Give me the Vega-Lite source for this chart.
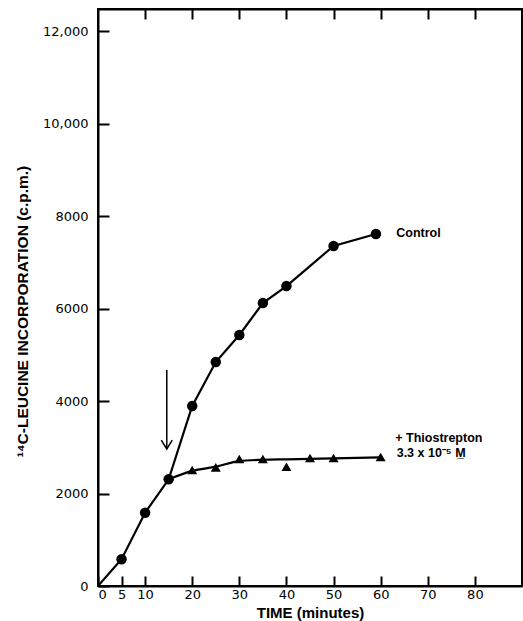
{
  "$schema": "https://vega.github.io/schema/vega-lite/v6.json",
  "width": 424,
  "height": 577,
  "autosize": "none",
  "padding": {"left": 98, "top": 9, "right": 1, "bottom": 35},
  "background": "white",
  "config": {
    "view": {"stroke": "black", "strokeWidth": 2},
    "axis": {
      "domainColor": "black",
      "domainWidth": 2,
      "tickColor": "black",
      "tickWidth": 2,
      "grid": false,
      "labelFont": "DejaVu Sans",
      "labelFontSize": 13,
      "labelColor": "black",
      "titleFont": "Liberation Sans",
      "titleFontWeight": "bold",
      "titleColor": "black"
    }
  },
  "datasets": {
    "control": [
      {"time": 0, "cpm": 0},
      {"time": 5, "cpm": 580},
      {"time": 10, "cpm": 1585},
      {"time": 15, "cpm": 2307},
      {"time": 20, "cpm": 3892},
      {"time": 25, "cpm": 4843},
      {"time": 30, "cpm": 5427},
      {"time": 35, "cpm": 6119},
      {"time": 40, "cpm": 6486},
      {"time": 50, "cpm": 7351},
      {"time": 59, "cpm": 7610}
    ],
    "thio_points": [
      {"time": 20, "cpm": 2508},
      {"time": 25, "cpm": 2566},
      {"time": 30, "cpm": 2746},
      {"time": 35, "cpm": 2746},
      {"time": 40, "cpm": 2579},
      {"time": 45, "cpm": 2767},
      {"time": 50, "cpm": 2767},
      {"time": 60, "cpm": 2789}
    ],
    "thio_curve": [
      {"time": 15, "cpm": 2307},
      {"time": 20, "cpm": 2490},
      {"time": 25, "cpm": 2580},
      {"time": 30, "cpm": 2700},
      {"time": 35, "cpm": 2730},
      {"time": 40, "cpm": 2740},
      {"time": 45, "cpm": 2750},
      {"time": 50, "cpm": 2760},
      {"time": 60, "cpm": 2780}
    ],
    "arrow": [
      {"time": 14.6, "top": 4670, "tip": 2962}
    ],
    "labels": [
      {"time": 63.3, "cpm": 7637, "text": ["Control"]},
      {"time": 63.1, "cpm": 3210, "text": ["+ Thiostrepton"]},
      {"time": 63.4, "cpm": 2880, "text": ["3.3 x 10⁻⁵ M̲"]}
    ]
  },
  "layer": [
    {
      "data": {"name": "control"},
      "mark": {"type": "line", "color": "black", "strokeWidth": 2.2},
      "encoding": {
        "x": {
          "field": "time", "type": "quantitative",
          "scale": {"domain": [0, 90], "nice": false},
          "axis": {
            "orient": "bottom",
            "values": [0, 5, 10, 20, 30, 40, 50, 60, 70, 80],
            "tickSize": -10,
            "labelPadding": 12,
            "title": "TIME (minutes)",
            "titleFontSize": 15,
            "titleBaseline": "alphabetic",
            "titleY": 31
          }
        },
        "y": {
          "field": "cpm", "type": "quantitative",
          "scale": {"domain": [0, 12476], "nice": false},
          "axis": {
            "values": [0, 2000, 4000, 6000, 8000, 10000, 12000],
            "tickSize": -11,
            "labelPadding": 21,
            "labelExpr": "datum.value >= 10000 ? format(datum.value, ',') : format(datum.value, 'd')",
            "title": "¹⁴C-LEUCINE INCORPORATION (c.p.m.)",
            "titleFontSize": 15.5,
            "titleAngle": 270,
            "titleBaseline": "middle",
            "titleX": -76,
            "titleY": 302
          }
        }
      }
    },
    {
      "data": {"name": "control"},
      "transform": [{"filter": "datum.time > 0"}],
      "mark": {"type": "point", "shape": "circle", "filled": true, "color": "black", "size": 110, "opacity": 1},
      "encoding": {
        "x": {
          "field": "time", "type": "quantitative",
          "axis": {
            "orient": "top",
            "values": [10, 20, 30, 40, 50, 60, 70, 80],
            "tickSize": -10,
            "labels": false,
            "title": null
          }
        },
        "y": {"field": "cpm", "type": "quantitative"}
      }
    },
    {
      "data": {"name": "thio_curve"},
      "mark": {"type": "line", "color": "black", "strokeWidth": 2.2, "interpolate": "monotone"},
      "encoding": {
        "x": {"field": "time", "type": "quantitative", "axis": null},
        "y": {"field": "cpm", "type": "quantitative"}
      }
    },
    {
      "data": {"name": "thio_points"},
      "mark": {"type": "point", "shape": "triangle-up", "filled": true, "color": "black", "size": 100, "opacity": 1},
      "encoding": {
        "x": {"field": "time", "type": "quantitative", "axis": null},
        "y": {"field": "cpm", "type": "quantitative"}
      }
    },
    {
      "data": {"name": "arrow"},
      "mark": {"type": "rule", "color": "black", "strokeWidth": 1.5},
      "encoding": {
        "x": {"field": "time", "type": "quantitative", "axis": null},
        "y": {"field": "top", "type": "quantitative"},
        "y2": {"field": "tip"}
      }
    },
    {
      "data": {"name": "arrow"},
      "mark": {"type": "point", "shape": "M -1 -1.6 L 0 0 L 1 -1.6", "filled": false, "stroke": "black", "strokeWidth": 1.5, "size": 121, "opacity": 1},
      "encoding": {
        "x": {"field": "time", "type": "quantitative", "axis": null},
        "y": {"field": "tip", "type": "quantitative"}
      }
    },
    {
      "data": {"name": "labels"},
      "mark": {"type": "text", "align": "left", "baseline": "middle", "font": "Liberation Sans", "fontWeight": "bold", "fontSize": 12.5, "color": "black"},
      "encoding": {
        "x": {"field": "time", "type": "quantitative", "axis": null},
        "y": {"field": "cpm", "type": "quantitative"},
        "text": {"field": "text"}
      }
    }
  ],
  "resolve": {"axis": {"x": "independent"}}
}
